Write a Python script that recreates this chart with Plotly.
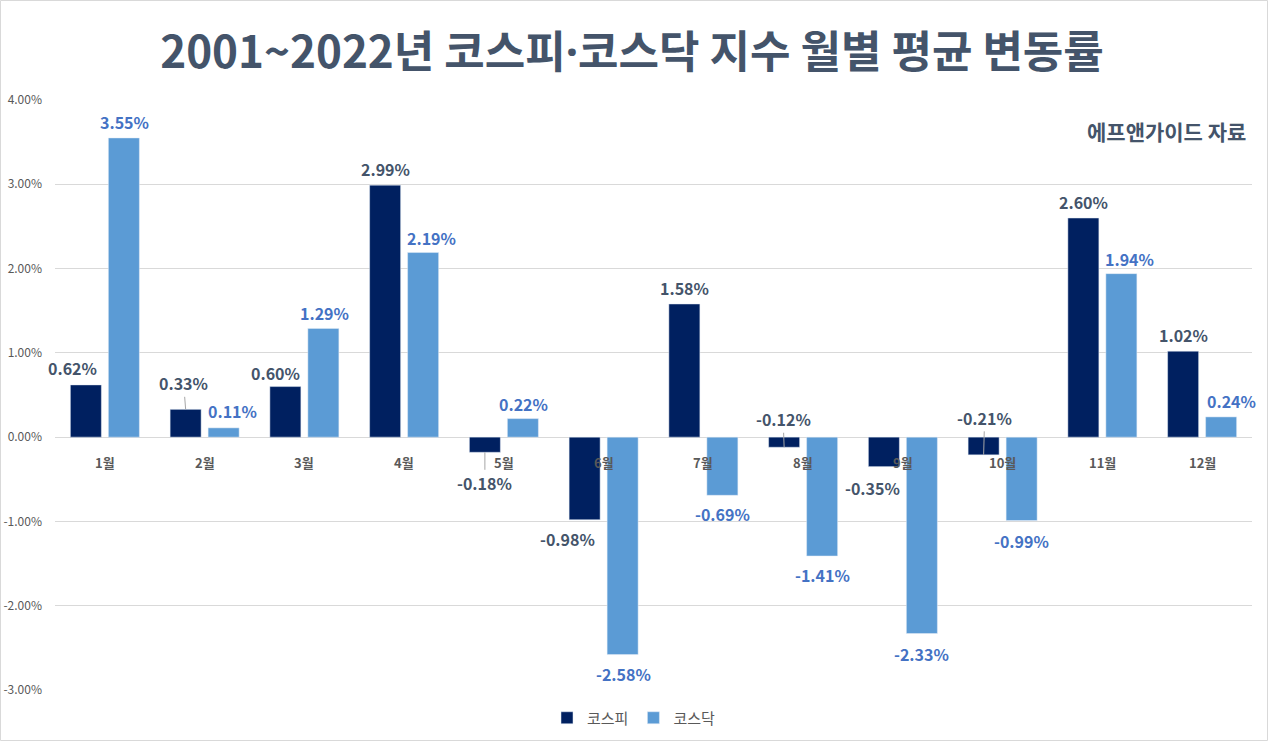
import plotly.graph_objects as go

months = ["1월", "2월", "3월", "4월", "5월", "6월", "7월", "8월", "9월", "10월", "11월", "12월"]
kospi = [0.62, 0.33, 0.60, 2.99, -0.18, -0.98, 1.58, -0.12, -0.35, -0.21, 2.60, 1.02]
kosdaq = [3.55, 0.11, 1.29, 2.19, 0.22, -2.58, -0.69, -1.41, -2.33, -0.99, 1.94, 0.24]
y_ticks = [-3, -2, -1, 0, 1, 2, 3, 4]

# label offsets (px): (dx, dy, leader)
kospi_off = [(-13, -17, False), (-2, -26, True), (-10, -14, False), (0, -16, False),
             (0, 31, True), (-17, 19, False), (0, -16, False), (-1, -28, True),
             (-11, 21, False), (1, -37, True), (0, -16, False), (0, -16, False)]
kosdaq_off = [(1, -16, False), (9, -17, False), (1, -15, False), (8, -15, False),
              (1, -15, False), (1, 19, False), (0, 19, False), (0, 19, False),
              (0, 20, False), (0, 20, False), (8, -15, False), (10, -16, False)]

FONT = "Noto Sans CJK KR"
C_KOSPI = "#002060"
C_KOSDAQ = "#5B9BD5"

L, R, T, B = 55, 16, 100, 51
W, H = 1268, 741
pw = W - L - R
ph = H - T - B

fig = go.Figure()
fig.add_trace(go.Bar(x=months, y=kospi, name="코스피", marker_color=C_KOSPI))
fig.add_trace(go.Bar(x=months, y=kosdaq, name="코스닥", marker_color=C_KOSDAQ))

ann = []
for i, m in enumerate(months):
    for vals, offs, xs, col in ((kospi, kospi_off, -19, "#44546A"), (kosdaq, kosdaq_off, 19, "#4472C4")):
        v = vals[i]
        dx, dy, lead = offs[i]
        ann.append(dict(x=m, y=v, xref="x", yref="y", xshift=xs,
                        text=f"{v:.2f}%", showarrow=True, ax=dx, ay=dy,
                        arrowhead=0, arrowwidth=1, standoff=0, startstandoff=0,
                        arrowcolor="#A6A6A6" if lead else "rgba(0,0,0,0)",
                        font=dict(family=FONT, size=16, color=col, weight="bold")))
    ann.append(dict(x=m, y=0, xref="x", yref="y", yshift=-25, text=m, showarrow=False,
                    font=dict(family=FONT, size=13, color="#595959", weight="bold")))

ann.append(dict(x=(1248 - L) / pw, y=(H - B - 131) / ph, xref="paper", yref="paper",
                text="에프앤가이드 자료",
                showarrow=False, xanchor="right", yanchor="middle",
                font=dict(family=FONT, size=21, color="#44546A", weight="bold")))

title_text = ('2001~2022년 코스피<span style="font-family:Noto Sans">·</span>'
              '코스닥 지수 월별 평균 변동률')

fig.update_layout(
    width=W, height=H, autosize=False,
    margin=dict(l=L, r=R, t=T, b=B, autoexpand=False),
    paper_bgcolor="white", plot_bgcolor="white",
    barmode="group", bargap=0.238, bargroupgap=0.184,
    title=dict(text=title_text, x=(632 - L) / pw * 1.0, xref="paper", xanchor="center",
               y=1 - 53 / H, yanchor="middle", automargin=False,
               font=dict(family=FONT, size=44, color="#44546A", weight="bold")),
    font=dict(family=FONT),
    xaxis=dict(showticklabels=False, showgrid=False, zeroline=False, showline=False,
               automargin=False, range=[-0.5, len(months) - 0.5], autorange=False),
    yaxis=dict(range=[-3, 4], autorange=False, tickvals=y_ticks,
               ticktext=[f"{t:.2f}%" for t in y_ticks],
               gridcolor="#D9D9D9", gridwidth=1, zeroline=True, zerolinecolor="#D9D9D9",
               zerolinewidth=1, showline=False, automargin=False,
               tickfont=dict(family=FONT, size=12, color="#595959"), ticks="",
               ticklabelstandoff=12),
    legend=dict(orientation="h", x=(634 - L) / pw, xanchor="center", y=-(718 - (H - B)) / ph,
                yanchor="middle",
                font=dict(family=FONT, size=15, color="#595959"), itemwidth=30),
    showlegend=True,
    annotations=ann,
)
fig.add_shape(type="rect", xref="paper", yref="paper",
              x0=-(L - 0.5) / pw, x1=1 + (R - 0.5) / pw, y0=-(B - 0.5) / ph, y1=1 + (T - 0.5) / ph,
              line=dict(color="#D9D9D9", width=1), fillcolor="rgba(0,0,0,0)", layer="below")

post = ("document.body.style.margin='0';document.body.style.padding='0';"
        "document.body.style.overflow='hidden';"
        "document.documentElement.style.overflow='hidden';"
        "var gd=document.getElementById('{plot_id}');"
        "Plotly.relayout(gd,{width:%d,height:%d});" % (W, H))
fig.write_html("out.html", post_script=post,
               config={"responsive": False, "displayModeBar": False})
